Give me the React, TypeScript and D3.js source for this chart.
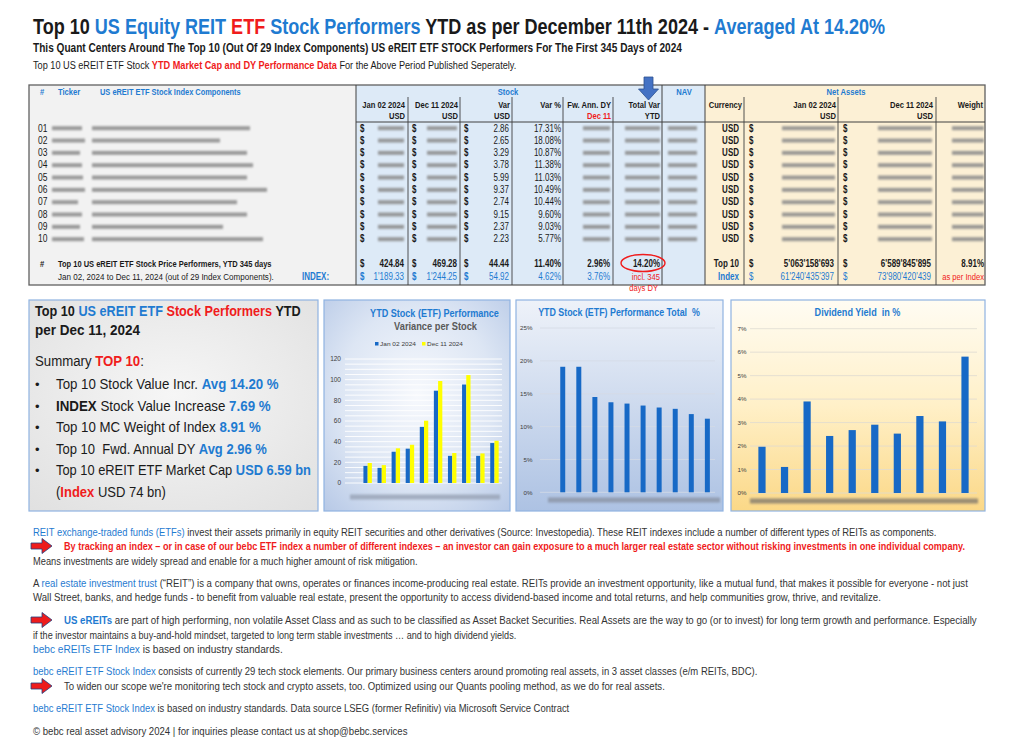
import React, { useLayoutEffect, useRef, useState } from "react";
import * as d3 from "d3";

// ---------- data ----------
const rowIds = ["01", "02", "03", "04", "05", "06", "07", "08", "09", "10"];
const varUsd = [2.86, 2.65, 3.29, 3.78, 5.99, 9.37, 2.74, 9.15, 2.37, 2.23];
const varPct = [17.31, 18.08, 10.87, 11.38, 11.03, 10.49, 10.44, 9.6, 9.03, 5.77];
const priceJan02 = [16.52, 14.66, 30.27, 33.22, 54.31, 89.32, 26.25, 95.31, 26.25, 38.65];
const priceDec11 = [19.38, 17.31, 33.56, 37.0, 60.3, 98.69, 28.99, 104.46, 28.62, 40.88];
const totalVarPct = [19.1, 19.1, 14.5, 13.7, 13.5, 13.2, 12.9, 12.7, 11.9, 11.2];
const dividendYieldPct = [1.97, 1.11, 3.9, 2.43, 2.68, 2.91, 2.53, 3.28, 3.05, 5.81];
const priceTicks = [0, 20, 40, 60, 80, 100, 120];
const totalTicks = [0, 5, 10, 15, 20, 25];
const dyTicks = [0, 1, 2, 3, 4, 5, 6, 7];
const legendLabels = ["Jan 02 2024", "Dec 11 2024"];
const top10Totals = ["424.84", "469.28", "44.44", "11.40%", "2.96%", "14.20%"];
const indexTotals = ["1'189.33", "1'244.25", "54.92", "4.62%", "3.76%"];
const netTop10 = ["5'063'158'693", "6'589'845'895", "8.91%"];
const netIndex = ["61'240'435'397", "73'980'420'439"];

// ---------- style ----------
const BLUE = "#1f7bd1";
const RED = "#f01c1c";
const DARK = "#1a1a1a";
const BAR_BLUE = "#1769c6";
const SANS = "'Liberation Sans',Arial,sans-serif";

// text drawn in Liberation Sans, horizontally compressed (narrow look) or fitted to a length
function T(p: any) {
  const { x, y, size = 9.5, weight = 400, fill = DARK, anchor = "start", len, sx = 0.8, children } = p;
  const ref = useRef<SVGTextElement>(null);
  const [s, setS] = useState(len ? 1 : sx);
  useLayoutEffect(() => {
    if (len && ref.current) {
      const w = ref.current.getComputedTextLength();
      if (w > 0) setS(len / w);
    }
  }, [len]);
  return (
    <g transform={`translate(${x},${y}) scale(${s},1)`}>
      <text
        ref={ref}
        x={0}
        y={0}
        fontSize={size}
        fontWeight={weight}
        fill={fill}
        textAnchor={anchor}
        fontFamily={SANS}
        style={{ whiteSpace: "pre" }}
      >
        {children}
      </text>
    </g>
  );
}

function Blur(p: any) {
  const { x1, x2, y, h = 4, fill = "#8a8a8a" } = p;
  return <rect x={x1} y={y - h / 2} width={x2 - x1} height={h} fill={fill} filter="url(#blur)" opacity={0.85} />;
}

function Arrow({ y }: { y: number }) {
  return (
    <path
      d={`M31,${y - 3} h11 v-4.5 l10,7.5 l-10,7.5 v-4.5 h-11 z`}
      fill="#ee1c1c"
      stroke="#1f3f80"
      strokeWidth={0.8}
    />
  );
}

const tickerEnd = [82, 85, 80, 82, 83, 85, 78, 82, 80, 84];
const nameEnd = [250, 220, 247, 253, 247, 267, 237, 247, 223, 263];

export default function App() {
  const rowBase = (i: number) => 131.5 + i * 12.33;

  // chart 1
  const x1 = d3.scaleBand().domain(rowIds).range([360.6, 501.5]).paddingInner(0.4).paddingOuter(0.2);
  const x1s = d3.scaleBand().domain(["jan", "dec"]).range([0, x1.bandwidth()]);
  const y1 = d3.scaleLinear().domain([0, 120]).range([483, 359]);
  const grid1 = d3.range(0, 121, 5);

  // chart 2
  const x2 = d3.scaleBand().domain(rowIds).range([554.7, 715.4]).paddingInner(0.69).paddingOuter(0.345);
  const y2 = d3.scaleLinear().domain([0, 25]).range([492.3, 328]);

  // chart 3
  const x3 = d3.scaleBand().domain(rowIds).range([750.7, 976.3]).paddingInner(0.68).paddingOuter(0.34);
  const y3 = d3.scaleLinear().domain([0, 7]).range([493, 328.7]);

  const bottomLines: any[] = [
    { y: 535.5, x: 33, len: 904, segs: [["REIT exchange-traded funds (ETFs)", BLUE, 400], [" invest their assets primarily in equity REIT securities and other derivatives (Source: Investopedia). These REIT indexes include a number of different types of REITs as components.", "#333", 400]] },
    { y: 549.5, x: 64, len: 902, arrow: true, segs: [["By tracking an index – or in case of our bebc ETF index a number of different indexes – an investor can gain exposure to a much larger real estate sector without risking investments in one individual company.", RED, 700]] },
    { y: 564.5, x: 33, len: 385, segs: [["Means investments are widely spread and enable for a much higher amount of risk mitigation.", "#333", 400]] },
    { y: 586.5, x: 33, len: 935, segs: [["A ", "#333", 400], ["real estate investment trust", BLUE, 400], [" (“REIT”) is a company that owns, operates or finances income-producing real estate. REITs provide an investment opportunity, like a mutual fund, that makes it possible for everyone - not just", "#333", 400]] },
    { y: 600.5, x: 33, len: 849, segs: [["Wall Street, banks, and hedge funds - to benefit from valuable real estate, present the opportunity to access dividend-based income and total returns, and help communities grow, thrive, and revitalize.", "#333", 400]] },
    { y: 623.5, x: 64, len: 914, arrow: true, segs: [["US eREITs", BLUE, 700], [" are part of high performing, non volatile Asset Class and as such to be classified as Asset Backet Securities. Real Assets are the way to go (or to invest) for long term growth and performance. Especially", "#333", 400]] },
    { y: 638.5, x: 33, len: 484, segs: [["if the investor maintains a buy-and-hold mindset, targeted to long term stable investments … and to high dividend yields.", "#333", 400]] },
    { y: 652.5, x: 33, len: 250, segs: [["bebc eREITs ETF Index", BLUE, 400], [" is based on industry standards.", "#333", 400]] },
    { y: 674.5, x: 33, len: 725, segs: [["bebc eREIT ETF Stock Index", BLUE, 400], [" consists of currently 29 tech stock elements. Our primary business centers around promoting real assets, in 3 asset classes (e/m REITs, BDC).", "#333", 400]] },
    { y: 689.5, x: 64, len: 601, arrow: true, segs: [["To widen our scope we're monitoring tech stock and crypto assets, too. Optimized using our Quants pooling method, as we do for real assets.", "#333", 400]] },
    { y: 711.5, x: 33, len: 537, segs: [["bebc eREIT ETF Stock Index", BLUE, 400], [" is based on industry standards. Data source LSEG (former Refinitiv) via Microsoft Service Contract", "#333", 400]] },
    { y: 734.5, x: 33, len: 375, segs: [["© bebc real asset advisory 2024 | for inquiries please contact us at shop@bebc.services", "#333", 400]] },
  ];

  const bullets: any[] = [
    { len: 223, segs: [["Top 10 Stock Value Incr. ", DARK, 400], ["Avg 14.20 %", BLUE, 700]] },
    { len: 215, segs: [["INDEX", DARK, 700], [" Stock Value Increase ", DARK, 400], ["7.69 %", BLUE, 700]] },
    { len: 205, segs: [["Top 10 MC Weight of Index ", DARK, 400], ["8.91 %", BLUE, 700]] },
    { len: 211, segs: [["Top 10  Fwd. Annual DY ", DARK, 400], ["Avg 2.96 %", BLUE, 700]] },
    { len: 255, segs: [["Top 10 eREIT ETF Market Cap ", DARK, 400], ["USD 6.59 bn", BLUE, 700]] },
  ];
  const bulletY = [389, 410.5, 432, 453.5, 475];

  const headerCols: any[] = [
    [405, "Jan 02 2024", "USD"],
    [458, "Dec 11 2024", "USD"],
    [510, "Var", "USD"],
    [561, "Var %", ""],
    [611, "Fw. Ann. DY", ""],
    [660, "Total Var", "YTD"],
    [742, "Currency", ""],
    [836, "Jan 02 2024", "USD"],
    [933, "Dec 11 2024", "USD"],
    [983, "Weight", ""],
  ];

  return (
    <svg width={1024} height={750} style={{ position: "absolute", left: 0, top: 0, background: "#fff" }}>
      <defs>
        <filter id="blur" x="-20%" y="-150%" width="140%" height="400%">
          <feGaussianBlur stdDeviation="1.1" />
        </filter>
        <radialGradient id="g0" cx="50%" cy="45%" r="75%">
          <stop offset="0" stopColor="#f6f6f6" />
          <stop offset="1" stopColor="#e0e0e0" />
        </radialGradient>
        <radialGradient id="g1" cx="50%" cy="45%" r="75%">
          <stop offset="0" stopColor="#f7f9fd" />
          <stop offset="0.55" stopColor="#dde6f4" />
          <stop offset="1" stopColor="#b6c8e6" />
        </radialGradient>
        <linearGradient id="g2" x1="0" y1="0" x2="0" y2="1">
          <stop offset="0" stopColor="#eef2f9" />
          <stop offset="1" stopColor="#adc2e3" />
        </linearGradient>
        <linearGradient id="g3" x1="0" y1="0" x2="0" y2="1">
          <stop offset="0" stopColor="#fffcf3" />
          <stop offset="0.5" stopColor="#fff0c8" />
          <stop offset="1" stopColor="#fbd887" />
        </linearGradient>
      </defs>

      {/* ---------- header ---------- */}
      <T x={33} y={34} size={22} weight={700} len={852}>
        <tspan fill={DARK}>Top 10 </tspan>
        <tspan fill={BLUE}>US Equity REIT </tspan>
        <tspan fill={RED}>ETF</tspan>
        <tspan fill={BLUE}> Stock Performers</tspan>
        <tspan fill={DARK}> YTD as per December 11th 2024 - </tspan>
        <tspan fill={BLUE}>Averaged At 14.20%</tspan>
      </T>
      <T x={33} y={51.5} size={12} weight={700} len={650}>
        This Quant Centers Around The Top 10 (Out Of 29 Index Components) US eREIT ETF STOCK Performers For The First 345 Days of 2024
      </T>
      <T x={33} y={69} size={10} len={484}>
        <tspan fill={DARK}>Top 10 US eREIT ETF Stock </tspan>
        <tspan fill={RED} fontWeight={700}>YTD Market Cap and DY Performance Data</tspan>
        <tspan fill={DARK}> For the Above Period Published Seperately.</tspan>
      </T>

      {/* ---------- table ---------- */}
      <rect x={29} y={85} width={327} height={200} fill="#f2f2f2" />
      <rect x={356} y={85} width={349} height={200} fill="#ddeaf7" />
      <rect x={705} y={85} width={280} height={200} fill="#fcf0d5" />
      <rect x={29} y={85} width={956} height={200} fill="none" stroke="#606060" strokeWidth={1.3} />
      {[356, 662, 705].map((x) => (
        <line key={x} x1={x} x2={x} y1={85} y2={285} stroke="#404040" strokeWidth={1} />
      ))}
      {[408, 460, 512, 563, 613, 744, 838, 936].map((x) => (
        <line key={x} x1={x} x2={x} y1={97} y2={285} stroke="#404040" strokeWidth={0.9} />
      ))}
      <line x1={356} x2={985} y1={122} y2={122} stroke="#404040" strokeWidth={1} />

      <T x={40} y={95} weight={700} fill={BLUE}>#</T>
      <T x={58} y={95} weight={700} fill={BLUE}>Ticker</T>
      <T x={100} y={95} weight={700} fill={BLUE} len={141}>US eREIT ETF Stock Index Components</T>
      <T x={508} y={95} weight={700} fill={BLUE} anchor="middle">Stock</T>
      <T x={684} y={95} weight={700} fill={BLUE} anchor="middle">NAV</T>
      <T x={846} y={95} weight={700} fill={BLUE} anchor="middle">Net Assets</T>

      {headerCols.map(([x, a, b]: any) => (
        <g key={x}>
          <T x={x} y={107.5} weight={700} anchor="end">{a}</T>
          {b && <T x={x} y={119} weight={700} anchor="end">{b}</T>}
        </g>
      ))}
      <T x={611} y={119} weight={700} anchor="end" fill={RED}>Dec 11</T>

      {rowIds.map((id, i) => {
        const y = rowBase(i);
        const by = y - 3.3;
        return (
          <g key={id}>
            <T x={38} y={y} size={10} sx={0.85}>{id}</T>
            <Blur x1={52} x2={tickerEnd[i]} y={by} />
            <Blur x1={92} x2={nameEnd[i]} y={by} />
            <T x={360} y={y} weight={700} size={10}>$</T>
            <Blur x1={378} x2={404} y={by} />
            <T x={412} y={y} weight={700} size={10}>$</T>
            <Blur x1={427} x2={457} y={by} />
            <T x={464} y={y} weight={700} size={10}>$</T>
            <T x={509} y={y} anchor="end" size={10}>{varUsd[i].toFixed(2)}</T>
            <T x={561} y={y} anchor="end" size={10}>{varPct[i].toFixed(2) + "%"}</T>
            <Blur x1={583} x2={610} y={by} />
            <Blur x1={625} x2={660} y={by} />
            <Blur x1={668} x2={697} y={by} />
            <T x={739} y={y} anchor="end" weight={700} size={10}>USD</T>
            <T x={749} y={y} weight={700} size={10}>$</T>
            <Blur x1={782} x2={835} y={by} />
            <T x={843} y={y} weight={700} size={10}>$</T>
            <Blur x1={878} x2={932} y={by} />
            <Blur x1={952} x2={984} y={by} />
          </g>
        );
      })}

      {/* totals */}
      <T x={40} y={267} weight={700}>#</T>
      <T x={58} y={267} weight={700} len={214}>Top 10 US eREIT ETF Stock Price Performers, YTD 345 days</T>
      <T x={58} y={280} len={216}>Jan 02, 2024 to Dec 11, 2024 (out of 29 Index Components).</T>
      <T x={302} y={280} weight={700} fill={BLUE} size={10}>INDEX:</T>
      {[360, 412, 464].map((x) => (
        <g key={x}>
          <T x={x} y={267} weight={700} size={10}>$</T>
          <T x={x} y={280} weight={700} fill={BLUE} size={10}>$</T>
        </g>
      ))}
      {[404, 457, 509, 561, 610, 660].map((x, k) => (
        <T key={x} x={x} y={267} anchor="end" weight={700} size={10}>{top10Totals[k]}</T>
      ))}
      {[404, 457, 509, 561, 610].map((x, k) => (
        <T key={x} x={x} y={280} anchor="end" fill={BLUE} size={10}>{indexTotals[k]}</T>
      ))}
      <T x={660} y={280} anchor="end" fill={RED} size={9.5}>incl. 345</T>
      <T x={658} y={291} anchor="end" fill={RED} size={9.5}>days DY</T>
      <ellipse cx={643} cy={263} rx={22} ry={8.5} fill="none" stroke={RED} strokeWidth={1.4} />

      <T x={739} y={267} anchor="end" weight={700} size={10}>Top 10</T>
      <T x={749} y={267} weight={700} size={10}>$</T>
      <T x={834} y={267} anchor="end" weight={700} size={10}>{netTop10[0]}</T>
      <T x={843} y={267} weight={700} size={10}>$</T>
      <T x={931} y={267} anchor="end" weight={700} size={10}>{netTop10[1]}</T>
      <T x={984} y={267} anchor="end" weight={700} size={10}>{netTop10[2]}</T>
      <T x={739} y={280} anchor="end" weight={700} fill={BLUE} size={10}>Index</T>
      <T x={749} y={280} fill={BLUE} size={10}>$</T>
      <T x={834} y={280} anchor="end" fill={BLUE} size={10}>{netIndex[0]}</T>
      <T x={843} y={280} fill={BLUE} size={10}>$</T>
      <T x={931} y={280} anchor="end" fill={BLUE} size={10}>{netIndex[1]}</T>
      <T x={984} y={280} anchor="end" fill={RED} size={9.5}>as per Index</T>

      {/* blue down arrow */}
      <polygon
        points="644,77 653,77 653,89 658.5,89 648.5,100 638.5,89 644,89"
        fill="#4472c4"
        stroke="#2f528f"
        strokeWidth={0.8}
      />

      {/* ---------- summary box ---------- */}
      <rect x={29} y={300} width={289} height={211} fill="url(#g0)" stroke="#8fb3e2" strokeWidth={1.2} />
      <T x={35} y={316} size={14.5} weight={700} len={266}>
        <tspan fill={DARK}>Top 10 </tspan>
        <tspan fill={BLUE}>US eREIT ETF </tspan>
        <tspan fill={RED}>Stock Performers</tspan>
        <tspan fill={DARK}> YTD</tspan>
      </T>
      <T x={35} y={335} size={14.5} weight={700} len={105}>per Dec 11, 2024</T>
      <T x={35} y={366} size={14.5} len={109}>
        <tspan>Summary </tspan>
        <tspan fill={RED} fontWeight={700}>TOP 10</tspan>
        <tspan>:</tspan>
      </T>
      {bullets.map((b, k) => (
        <g key={k}>
          <T x={35} y={bulletY[k]} size={13} sx={1}>•</T>
          <T x={56} y={bulletY[k]} size={14} len={b.len}>
            {b.segs.map((s: any, j: number) => (
              <tspan key={j} fill={s[1]} fontWeight={s[2]}>{s[0]}</tspan>
            ))}
          </T>
        </g>
      ))}
      <T x={56} y={496.5} size={14} len={110}>
        <tspan>(</tspan>
        <tspan fill={RED} fontWeight={700}>Index</tspan>
        <tspan> USD 74 bn)</tspan>
      </T>

      {/* ---------- chart 1 ---------- */}
      <rect x={324} y={300} width={186} height={211} fill="url(#g1)" stroke="#8fb3e2" strokeWidth={1.2} />
      <T x={434.5} y={317} size={10.5} weight={700} fill={BLUE} anchor="middle" len={129}>YTD Stock (ETF) Performance</T>
      <T x={435.5} y={329.5} size={10.5} weight={700} fill="#595959" anchor="middle" len={83}>Variance per Stock</T>
      <rect x={375} y={342} width={3.5} height={3.5} fill={BAR_BLUE} />
      <T x={380} y={346} size={5.5} fill="#404040" len={36}>{legendLabels[0]}</T>
      <rect x={422} y={342} width={3.5} height={3.5} fill="#ffff00" />
      <T x={427} y={346} size={5.5} fill="#404040" len={36}>{legendLabels[1]}</T>
      {grid1.map((v) => (
        <line key={v} x1={345} x2={502} y1={y1(v)} y2={y1(v)} stroke="#ffffff" strokeWidth={1} opacity={0.9} />
      ))}
      {priceTicks.map((v) => (
        <T key={v} x={341} y={y1(v) + 2.2} size={6.5} fill="#404040" anchor="end" sx={1}>{v}</T>
      ))}
      {rowIds.map((id, i) => (
        <g key={id} transform={`translate(${x1(id)},0)`}>
          <rect x={x1s("jan")} y={y1(priceJan02[i])} width={x1s.bandwidth()} height={y1(0) - y1(priceJan02[i])} fill={BAR_BLUE} />
          <rect x={x1s("dec")} y={y1(priceDec11[i])} width={x1s.bandwidth()} height={y1(0) - y1(priceDec11[i])} fill="#ffff00" />
        </g>
      ))}
      <Blur x1={350} x2={500} y={497} h={5} fill="#9aa5b8" />

      {/* ---------- chart 2 ---------- */}
      <rect x={516} y={300} width={207} height={211} fill="url(#g2)" stroke="#8fb3e2" strokeWidth={1.2} />
      <T x={619} y={316} size={10.5} weight={700} fill={BLUE} anchor="middle" len={162}>YTD Stock (ETF) Performance Total  %</T>
      {totalTicks.map((v) => (
        <g key={v}>
          <line x1={540} x2={715} y1={y2(v)} y2={y2(v)} stroke="#d4dbe6" strokeWidth={0.8} />
          <T x={532.5} y={y2(v) + 2.2} size={6.2} fill="#404040" anchor="end" sx={1}>{v + "%"}</T>
        </g>
      ))}
      {rowIds.map((id, i) => (
        <rect key={id} x={x2(id)} y={y2(totalVarPct[i])} width={x2.bandwidth()} height={y2(0) - y2(totalVarPct[i])} fill={BAR_BLUE} />
      ))}
      <Blur x1={548} x2={720} y={500} h={5} fill="#8c96a8" />

      {/* ---------- chart 3 ---------- */}
      <rect x={731} y={300} width={254} height={211} fill="url(#g3)" stroke="#8fb3e2" strokeWidth={1.2} />
      <T x={857.5} y={315.5} size={10.5} weight={700} fill={BLUE} anchor="middle" len={86}>Dividend Yield  in %</T>
      {dyTicks.map((v) => (
        <g key={v}>
          <line x1={750} x2={977} y1={y3(v)} y2={y3(v)} stroke="#dedbd2" strokeWidth={0.8} />
          <T x={746.5} y={y3(v) + 2.2} size={6.2} fill="#404040" anchor="end" sx={1}>{v + "%"}</T>
        </g>
      ))}
      {rowIds.map((id, i) => (
        <rect key={id} x={x3(id)} y={y3(dividendYieldPct[i])} width={x3.bandwidth()} height={y3(0) - y3(dividendYieldPct[i])} fill={BAR_BLUE} />
      ))}
      <Blur x1={750} x2={978} y={501} h={5} fill="#8a8070" />

      {/* ---------- bottom text ---------- */}
      {bottomLines.map((l, k) => (
        <g key={k}>
          {l.arrow && <Arrow y={l.y - 3.5} />}
          <T x={l.x} y={l.y} size={11} len={l.len}>
            {l.segs.map((s: any, j: number) => (
              <tspan key={j} fill={s[1]} fontWeight={s[2]}>{s[0]}</tspan>
            ))}
          </T>
        </g>
      ))}
    </svg>
  );
}
